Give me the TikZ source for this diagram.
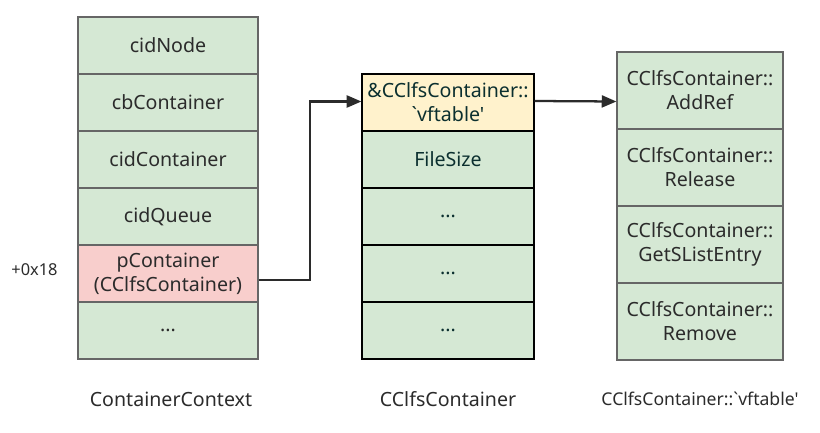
\documentclass[tikz,border=0pt]{standalone}
\usepackage{fontspec}
\newfontfamily\nfont{Noto Sans}
\usetikzlibrary{arrows.meta}
\definecolor{gfill}{HTML}{D5E8D4}
\definecolor{rfill}{HTML}{F8CECC}
\definecolor{yfill}{HTML}{FFF2CC}
\definecolor{gline}{HTML}{666666}
\definecolor{txt}{HTML}{2B2B2B}
\definecolor{mtxt}{HTML}{0B2F2F}
\tikzset{
  cell/.style={draw=gline, line width=0.9pt, fill=gfill, inner sep=0pt, align=center, text=txt, font=\nfont\fontsize{14.7}{18}\selectfont},
  lcell/.style={cell, minimum width=180*0.75pt, minimum height=57*0.75pt},
  mcell/.style={cell, draw=black, text=mtxt, minimum width=172*0.75pt, minimum height=57*0.75pt},
  rcell/.style={cell, minimum width=166*0.75pt, minimum height=77*0.75pt},
  lbl/.style={text=txt, inner sep=0pt, font=\nfont\fontsize{14.7}{18}\selectfont},
  conn/.style={draw=txt, line width=1.7pt, -{Triangle[length=11pt,width=9pt]}},
}
\begin{document}
\begin{tikzpicture}[x=0.75pt,y=-0.75pt]
\useasboundingbox (0,0) rectangle (820,432);
% left column
\node[lcell] (l1) at (168,45.5) {cidNode};
\node[lcell] (l2) at (168,102.5) {cbContainer};
\node[lcell] (l3) at (168,159.5) {cidContainer};
\node[lcell] (l4) at (168,216.5) {cidQueue};
\node[lcell, fill=rfill] (l5) at (168,273.5) {pContainer\\(CClfsContainer)};
\node[lcell] (l6) at (168,330.5) {...};
% middle column
\node[mcell, fill=yfill] (m1) at (448,102.5) {\&CClfsContainer::\\`vftable'};
\node[mcell] (m2) at (448,159.5) {FileSize};
\node[mcell] (m3) at (448,216.5) {...};
\node[mcell] (m4) at (448,273.5) {...};
\node[mcell] (m5) at (448,330.5) {...};
% right column
\node[rcell] (r1) at (700,90.5) {CClfsContainer::\\AddRef};
\node[rcell] (r2) at (700,167.5) {CClfsContainer::\\Release};
\node[rcell] (r3) at (700,244.5) {CClfsContainer::\\GetSListEntry};
\node[rcell] (r4) at (700,321.5) {CClfsContainer::\\Remove};
% labels
\node[lbl, font=\nfont\fontsize{12.3}{14}\selectfont] (off) at (34.5,270) {+0x18};
\node[lbl] (t1) at (171,399) {ContainerContext};
\node[lbl] (t2) at (448,399) {CClfsContainer};
\node[lbl, font=\nfont\fontsize{13.2}{15}\selectfont] (t3) at (700,399) {CClfsContainer::`vftable'};
% connectors
\coordinate (a1) at (l5.east |- 0,280);
\coordinate (a2) at (m1.west |- 0,101.5);
\draw[conn] (a1) -- (310,280) -- (310,101.5) -- (a2);
\coordinate (b1) at (m1.east |- 0,101);
\coordinate (b2) at (r1.west |- 0,101.5);
\draw[conn] (b1) -- (b2);
\end{tikzpicture}
\end{document}
